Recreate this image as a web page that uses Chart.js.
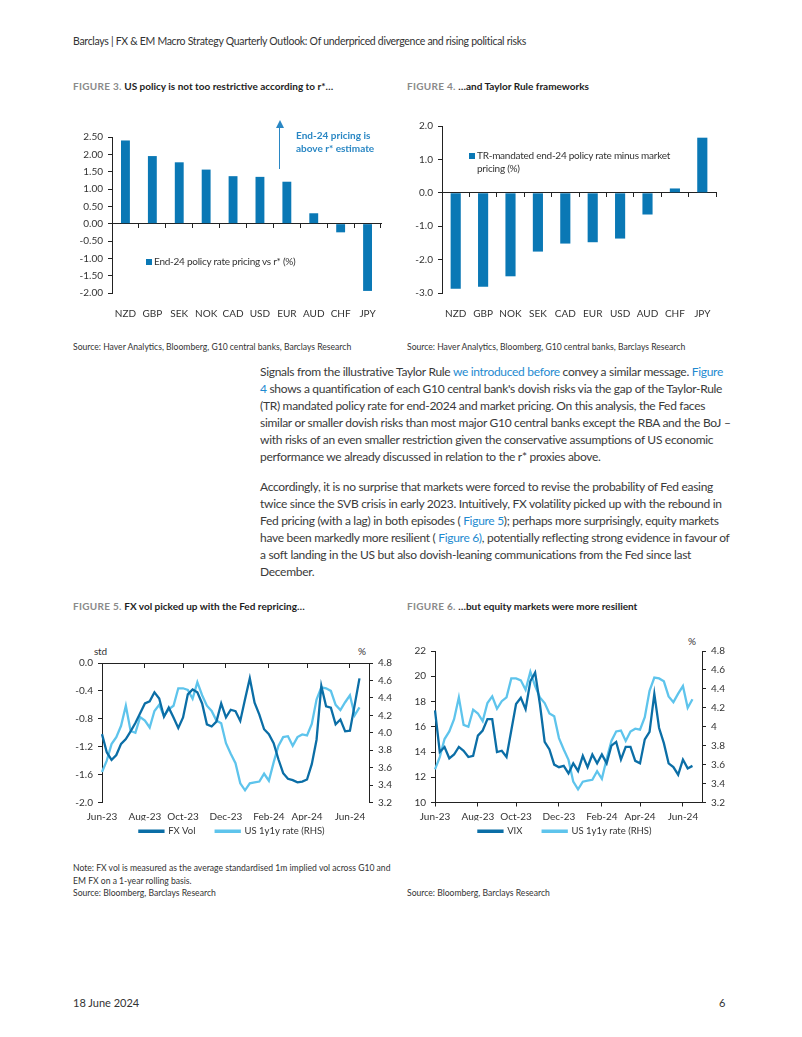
<!DOCTYPE html>
<html>
<head>
<meta charset="utf-8">
<script src="https://cdn.jsdelivr.net/npm/chart.js@4.4.1/dist/chart.umd.min.js"></script>
<style>
  html, body { margin: 0; padding: 0; background: #fff; }
  body { width: 802px; height: 1037px; position: relative; overflow: hidden; font-family: Lato, "Open Sans", sans-serif; color: #333; }
  .t { position: absolute; white-space: nowrap; }
  .header { left: 73px; top: 35px; font-size: 10.5px; letter-spacing: -0.3px; }
  .fig-title { font-size: 10px; font-weight: 700; color: #1d1d1d; }
  .fig-title .num { color: #8a8a8a; letter-spacing: 0.3px; }
  .source { font-size: 8.6px; line-height: 12.5px; }
  .para { left: 260px; font-size: 12px; line-height: 17px; color: #3a3a3a; letter-spacing: -0.3px; }
  .link { color: #1e8ad0; }
  .chart-box { position: absolute; }
  .small { font-size: 10px; line-height: 13px; color: #333; letter-spacing: -0.25px; }
  .sq { position: absolute; width: 6px; height: 6px; background: #0a78b5; }
  .note { font-size: 10px; font-weight: 700; color: #2a87c4; line-height: 13px; }
</style>
</head>
<body>

<div class="t header">Barclays | FX &amp; EM Macro Strategy Quarterly Outlook: Of underpriced divergence and rising political risks</div>

<div class="t fig-title" style="left:73px; top:80px"><span class="num">FIGURE 3.</span> US policy is not too restrictive according to r*…</div>
<div class="t fig-title" style="left:407px; top:80px"><span class="num">FIGURE 4.</span> …and Taylor Rule frameworks</div>

<div class="chart-box" style="left:65px; top:126px; width:320px; height:195px"><canvas id="fig3"></canvas></div>
<div class="chart-box" style="left:400px; top:115px; width:320px; height:206px"><canvas id="fig4"></canvas></div>

<!-- fig 3 annotation + legend -->
<div style="position:absolute; left:279px; top:127px; width:1.4px; height:42px; background:#2a87c4"></div>
<div style="position:absolute; left:276px; top:120px; width:0; height:0; border-left:4px solid transparent; border-right:4px solid transparent; border-bottom:8px solid #2a87c4"></div>
<div class="t note" style="left:296px; top:129px">End-24 pricing is<br>above r* estimate</div>
<div class="sq" style="left:146px; top:259px"></div>
<div class="t small" style="left:154px; top:255px">End-24 policy rate pricing vs r* (%)</div>

<div class="sq" style="left:469px; top:153px"></div>
<div class="t small" style="left:477px; top:149px">TR-mandated end-24 policy rate minus market<br>pricing (%)</div>

<div class="t source" style="left:73px; top:341px">Source: Haver Analytics, Bloomberg, G10 central banks, Barclays Research</div>
<div class="t source" style="left:407px; top:341px">Source: Haver Analytics, Bloomberg, G10 central banks, Barclays Research</div>

<div class="t para" style="top:363px">Signals from the illustrative Taylor Rule <span class="link">we introduced before</span> convey a similar message. <span class="link">Figure</span><br><span class="link">4</span> shows a quantification of each G10 central bank's dovish risks via the gap of the Taylor-Rule<br>(TR) mandated policy rate for end-2024 and market pricing. On this analysis, the Fed faces<br>similar or smaller dovish risks than most major G10 central banks except the RBA and the BoJ –<br>with risks of an even smaller restriction given the conservative assumptions of US economic<br>performance we already discussed in relation to the r* proxies above.</div>

<div class="t para" style="top:478px">Accordingly, it is no surprise that markets were forced to revise the probability of Fed easing<br>twice since the SVB crisis in early 2023. Intuitively, FX volatility picked up with the rebound in<br>Fed pricing (with a lag) in both episodes ( <span class="link">Figure 5</span>); perhaps more surprisingly, equity markets<br>have been markedly more resilient ( <span class="link">Figure 6)</span>, potentially reflecting strong evidence in favour of<br>a soft landing in the US but also dovish-leaning communications from the Fed since last<br>December.</div>

<div class="t fig-title" style="left:73px; top:600px"><span class="num">FIGURE 5.</span> FX vol picked up with the Fed repricing…</div>
<div class="t fig-title" style="left:407px; top:600px"><span class="num">FIGURE 6.</span> …but equity markets were more resilient</div>

<div class="t small" style="left:94px; top:645px">std</div>
<div class="t small" style="left:358px; top:645px">%</div>
<div class="t small" style="left:688px; top:635px">%</div>

<div class="chart-box" style="left:62px; top:652px; width:340px; height:194px"><canvas id="fig5"></canvas></div>
<div class="chart-box" style="left:395px; top:640px; width:340px; height:206px"><canvas id="fig6"></canvas></div>

<div class="t source" style="left:73px; top:862px">Note: FX vol is measured as the average standardised 1m implied vol across G10 and<br>EM FX on a 1-year rolling basis.<br>Source: Bloomberg, Barclays Research</div>
<div class="t source" style="left:407px; top:887px">Source: Bloomberg, Barclays Research</div>

<div class="t" style="left:73px; top:996px; font-size:11px">18 June 2024</div>
<div class="t" style="left:719px; top:996px; font-size:11px">6</div>

<script>
// bar charts
const fig3Cats = ['NZD', 'GBP', 'SEK', 'NOK', 'CAD', 'USD', 'EUR', 'AUD', 'CHF', 'JPY'];
const fig3Vals = [2.40, 1.95, 1.77, 1.56, 1.37, 1.35, 1.21, 0.30, -0.25, -1.94];

const fig4Cats = ['NZD', 'GBP', 'NOK', 'SEK', 'CAD', 'EUR', 'USD', 'AUD', 'CHF', 'JPY'];
const fig4Vals = [-2.87, -2.81, -2.50, -1.76, -1.52, -1.48, -1.37, -0.65, 0.13, 1.65];

// weekly series, Jun-23 to mid Jun-24
const monthTicks = ['Jun-23', 'Aug-23', 'Oct-23', 'Dec-23', 'Feb-24', 'Apr-24', 'Jun-24'];

const fxVol = [
  -1.02, -1.28, -1.39, -1.32, -1.16, -1.09, -0.98, -0.86, -0.72, -0.58,
  -0.55, -0.42, -0.51, -0.77, -0.64, -0.78, -0.93, -0.78, -0.45, -0.38,
  -0.42, -0.58, -0.88, -0.91, -0.84, -0.58, -0.78, -0.67, -0.69, -0.83,
  -0.52, -0.22, -0.57, -0.74, -0.95, -1.02, -1.15, -1.38, -1.58, -1.66,
  -1.68, -1.71, -1.70, -1.67, -1.45, -1.10, -0.33, -0.62, -0.64, -0.88,
  -0.81, -0.98, -0.97, -0.60, -0.22
];

const us1y1y = [
  3.55, 3.68, 3.87, 3.95, 4.08, 4.31, 4.02, 4.00, 4.18, 4.14,
  4.06, 4.25, 4.32, 4.19, 4.27, 4.31, 4.51, 4.51, 4.49, 4.39,
  4.58, 4.43, 4.31, 4.25, 4.14, 4.11, 3.88, 3.76, 3.65, 3.42,
  3.34, 3.42, 3.43, 3.44, 3.53, 3.45, 3.66, 3.85, 3.95, 3.96,
  3.85, 3.95, 3.98, 3.97, 4.10, 4.38, 4.52, 4.51, 4.48, 4.32,
  4.26, 4.35, 4.43, 4.20, 4.29
];

const vix = [
  17.3, 14.0, 14.4, 13.5, 13.8, 14.4, 14.1, 13.6, 13.7, 15.3,
  15.7, 16.6, 16.6, 14.0, 14.1, 13.6, 15.7, 17.8, 18.3, 17.4,
  19.6, 20.3, 17.8, 14.8, 14.2, 13.0, 12.8, 12.9, 12.3, 13.1,
  12.5, 13.7, 12.8, 13.8, 13.1, 13.8, 13.1, 14.5, 14.8, 13.4,
  14.4, 14.4, 13.3, 13.1, 15.0, 15.6, 18.6, 15.9, 14.7, 13.1,
  12.8, 12.2, 13.4, 12.7, 12.9
];

const BAR = '#0a78b5';
const DARK = '#0b6ea6';
const LIGHT = '#5ec4ec';
const AXIS = '#222';
const tickFont = { family: 'Lato, sans-serif', size: 10 };
const legendFont = { family: 'Lato, sans-serif', size: 9.5 };

Chart.defaults.animation = false;
Chart.defaults.font.family = 'Lato, sans-serif';
Chart.defaults.color = '#333';

// week axis: Fridays from 2 Jun 2023, two spare weeks after the data
const weeks = [];
for (let i = 0; i < fxVol.length + 2; i++) {
  weeks.push(new Date(2023, 5, 2 + 7 * i));
}
const weekLabels = weeks.map(d => d.toLocaleDateString('en-GB'));

const monthNames = ['Jan', 'Feb', 'Mar', 'Apr', 'May', 'Jun', 'Jul', 'Aug', 'Sep', 'Oct', 'Nov', 'Dec'];
const tickAt = {};
monthTicks.forEach(lbl => {
  const [m, y] = lbl.split('-');
  const target = new Date(2000 + Number(y), monthNames.indexOf(m), 1);
  let best = 0;
  weeks.forEach((d, i) => {
    if (Math.abs(d - target) < Math.abs(weeks[best] - target)) best = i;
  });
  tickAt[best] = lbl;
});
const keepMonthTicks = s => { s.ticks = s.ticks.filter(t => tickAt[t.value] !== undefined); };

function barChart(id, cats, vals, yMin, yMax, step, digits, yWidth, barPct) {
  return new Chart(document.getElementById(id), {
    type: 'bar',
    data: {
      labels: cats,
      datasets: [{ data: vals, backgroundColor: BAR, barPercentage: barPct, categoryPercentage: 1 }]
    },
    options: {
      responsive: true,
      maintainAspectRatio: false,
      layout: { padding: { top: 10, right: 4, left: 0, bottom: 0 } },
      plugins: { legend: { display: false }, tooltip: { enabled: false } },
      scales: {
        x: {
          grid: { display: false },
          border: { display: false },
          ticks: { padding: 7, font: tickFont, color: '#333', maxRotation: 0 },
          afterFit: s => { s.height = 28; }
        },
        // axis line drawn through zero with ticks between categories
        xZero: {
          type: 'category',
          position: { y: 0 },
          offset: true,
          ticks: { display: false },
          grid: { drawOnChartArea: false, offset: true, tickLength: 4, color: AXIS },
          border: { color: AXIS }
        },
        y: {
          min: yMin,
          max: yMax,
          ticks: { stepSize: step, padding: 5, font: tickFont, color: '#333', callback: v => v.toFixed(digits) },
          grid: { drawOnChartArea: false, tickLength: 4, color: AXIS },
          border: { color: AXIS },
          afterFit: s => { s.width = yWidth; }
        }
      }
    }
  });
}

barChart('fig3', fig3Cats, fig3Vals, -2, 2.5, 0.5, 2, 47, 0.33);
barChart('fig4', fig4Cats, fig4Vals, -3, 2, 1, 1, 42, 0.37);

function lineChart(id, left, leftName, leftScale, topLine) {
  return new Chart(document.getElementById(id), {
    type: 'line',
    data: {
      labels: weekLabels,
      datasets: [
        // trailing spaces widen the gap between the two legend entries
        { label: leftName + '\u2002\u2002\u2002', data: left, yAxisID: 'y', borderColor: DARK, backgroundColor: DARK, borderWidth: 2.3, pointRadius: 0, tension: 0 },
        { label: 'US 1y1y rate (RHS)', data: us1y1y, yAxisID: 'y2', borderColor: LIGHT, backgroundColor: LIGHT, borderWidth: 2.3, pointRadius: 0, tension: 0 }
      ]
    },
    options: {
      responsive: true,
      maintainAspectRatio: false,
      layout: { padding: { top: 10, right: 0, left: 0, bottom: 0 } },
      plugins: {
        tooltip: { enabled: false },
        legend: {
          position: 'bottom',
          labels: { boxWidth: 24, boxHeight: 1, padding: 6, font: legendFont, color: '#333' }
        }
      },
      scales: {
        x: {
          offset: false,
          afterBuildTicks: keepMonthTicks,
          ticks: { autoSkip: false, maxRotation: 0, padding: 4, font: tickFont, color: '#333', callback: v => tickAt[v] },
          grid: { display: !topLine, drawOnChartArea: false, tickLength: 4, color: AXIS },
          border: { display: !topLine, color: AXIS },
          afterFit: s => { s.height = 18; }
        },
        xTop: {
          type: 'category',
          display: topLine,
          position: { y: leftScale.max },
          offset: false,
          afterBuildTicks: keepMonthTicks,
          ticks: { display: false, autoSkip: false },
          grid: { drawOnChartArea: false, tickLength: 4, color: AXIS },
          border: { color: AXIS }
        },
        y: {
          position: 'left',
          min: leftScale.min,
          max: leftScale.max,
          ticks: { stepSize: leftScale.step, padding: 5, font: tickFont, color: '#333', callback: leftScale.fmt },
          grid: { drawOnChartArea: false, tickLength: 4, color: AXIS },
          border: { color: AXIS },
          afterFit: s => { s.width = 40; }
        },
        y2: {
          position: 'right',
          min: 3.2,
          max: 4.8,
          ticks: { stepSize: 0.2, padding: 5, font: tickFont, color: '#333', callback: leftScale.rhsFmt },
          grid: { drawOnChartArea: false, tickLength: 4, color: AXIS },
          border: { color: AXIS },
          afterFit: s => { s.width = 33; }
        }
      }
    }
  });
}

lineChart('fig5', fxVol, 'FX Vol',
  { min: -2, max: 0, step: 0.4, fmt: v => v.toFixed(1), rhsFmt: v => v.toFixed(1) }, true);
lineChart('fig6', vix, 'VIX',
  { min: 10, max: 22, step: 2, fmt: v => String(v), rhsFmt: v => String(+v.toFixed(1)) }, false);
</script>
</body>
</html>
